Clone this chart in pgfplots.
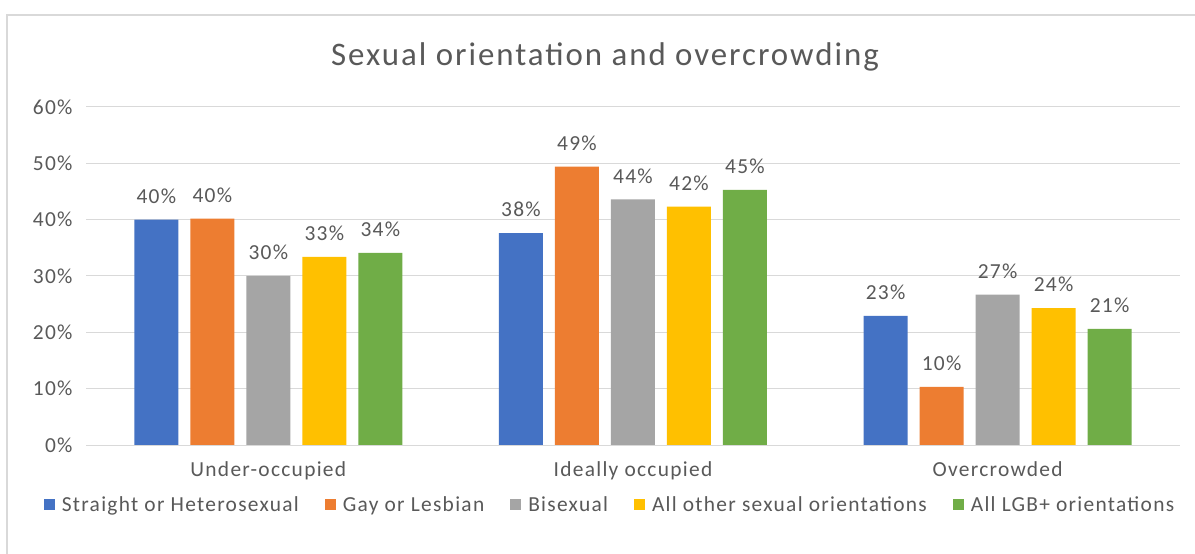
\documentclass[border=0pt]{standalone}
\usepackage{pgfplots}
\pgfplotsset{compat=1.18}
\usepackage{fontspec}
\setmainfont{Carlito}
\newfontfamily\lsfont{Carlito}[LetterSpace=6]
\definecolor{cBlue}{HTML}{4472C4}
\definecolor{cOrange}{HTML}{ED7D31}
\definecolor{cGrey}{HTML}{A5A5A5}
\definecolor{cYellow}{HTML}{FFC000}
\definecolor{cGreen}{HTML}{70AD47}
\definecolor{cText}{HTML}{595959}
\definecolor{cGrid}{HTML}{D9D9D9}
\begin{document}
\begin{tikzpicture}
\useasboundingbox (0,0) rectangle (1195bp,554bp);
\fill[white] (0,0) rectangle (1195bp,554bp);
\draw[cGrid, line width=1.5bp] (7bp,-10bp) -- (7bp,539bp) -- (1205bp,539bp);
\node[text=cText, font=\lsfont\fontsize{33}{38}\selectfont] at (605bp,497bp) {Sexual orientation and overcrowding};
\begin{axis}[
  at={(86bp,109bp)}, anchor=south west,
  scale only axis, width=1094bp, height=338bp,
  ybar=12bp, bar width=44bp,
  xmin=-0.5, xmax=2.5, ymin=0, ymax=60,
  xtick=data, xticklabels={Under-occupied,Ideally occupied,Overcrowded},
  ytick={0,10,...,60},
  yticklabel={\pgfmathprintnumber{\tick}\%},
  /pgf/number format/assume math mode=true,
  ymajorgrids, grid style={cGrid, line width=1bp},
  axis line style={draw=none},
  axis x line*=bottom,
  x axis line style={draw=cGrid, line width=1bp},
  major tick length=0pt,
  tick label style={text=cText, font=\lsfont\fontsize{21.5}{25}\selectfont},
  yticklabel style={xshift=-10bp},
  xticklabel style={yshift=-13bp},
  nodes near coords={\pgfmathprintnumber[fixed,precision=0]{\pgfplotspointmeta}\%},
  every node near coord/.append style={text=cText, font=\lsfont\fontsize{21.5}{25}\selectfont, anchor=south, inner sep=0pt, yshift=16bp},
  legend columns=5,
  legend style={at={(0.479,-0.1775)}, anchor=center, draw=none, fill=none,
    font=\lsfont\fontsize{21.5}{25}\selectfont, text=cText,
    /tikz/every odd column/.append style={column sep=5bp},
    /tikz/every even column/.append style={column sep=24bp}},
  legend image code/.code={\fill[#1] (0bp,-5.5bp) rectangle (11bp,5.5bp);},
]
\addplot[fill=cBlue, draw=none] coordinates {(0,40.0) (1,37.6) (2,22.9)};
\addplot[fill=cOrange, draw=none] coordinates {(0,40.2) (1,49.4) (2,10.3)};
\addplot[fill=cGrey, draw=none] coordinates {(0,30.0) (1,43.6) (2,26.7)};
\addplot[fill=cYellow, draw=none] coordinates {(0,33.4) (1,42.3) (2,24.3)};
\addplot[fill=cGreen, draw=none] coordinates {(0,34.1) (1,45.3) (2,20.6)};
\legend{Straight or Heterosexual,Gay or Lesbian,Bisexual,All other sexual orientations,All LGB+ orientations}
\end{axis}
\end{tikzpicture}
\end{document}
